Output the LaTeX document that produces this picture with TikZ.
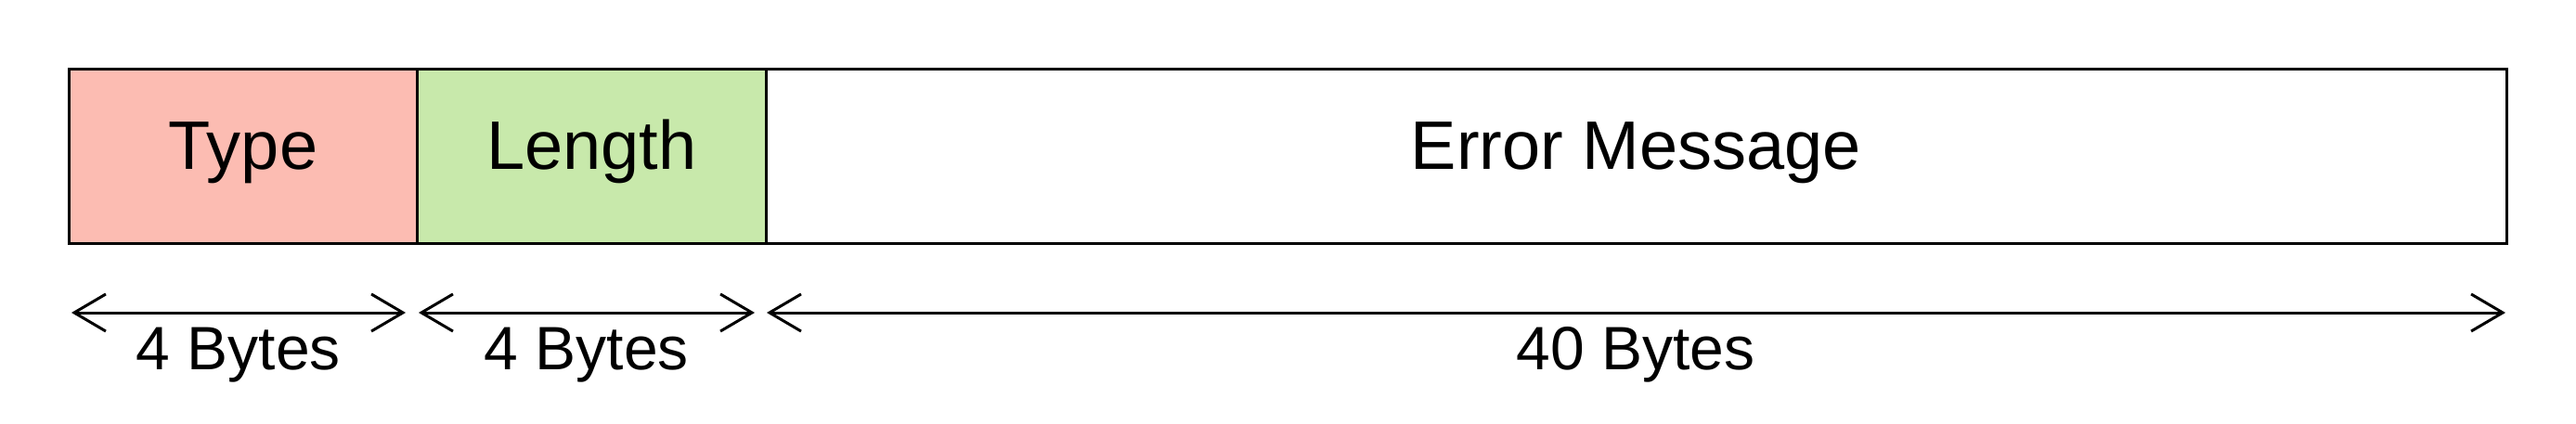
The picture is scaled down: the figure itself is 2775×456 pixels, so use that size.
\documentclass[tikz,border=0pt]{standalone}
\usepackage{fontspec}
\setmainfont{Liberation Sans}
\usetikzlibrary{arrows.meta}
\definecolor{typefill}{RGB}{252,188,178}
\definecolor{lenfill}{RGB}{200,233,171}
\tikzset{
  field/.style={draw=black, line width=3pt, rectangle, inner sep=0pt,
    minimum height=188pt, font=\fontsize{74}{80}\selectfont,
    text height=53pt, text depth=25pt},
  span/.style={line width=3pt, {Straight Barb[length=34pt,width=40pt]}-{Straight Barb[length=34pt,width=40pt]}},
  spanlabel/.style={anchor=base, inner sep=0pt, font=\fontsize{66}{72}\selectfont}
}
\begin{document}
\begin{tikzpicture}[x=1pt,y=-1pt]
\useasboundingbox (0,0) rectangle (2775,456);
\node[field, fill=typefill, minimum width=375pt] (type) at (262,168) {Type};
\node[field, fill=lenfill, minimum width=375.5pt] (length) at (637.25,168) {Length};
\node[field, fill=white, minimum width=1875pt] (msg) at (1762.5,168) {Error Message};
\coordinate (a1l) at (77,337);
\coordinate (a1r) at (437,337);
\coordinate (a2l) at (451,337);
\coordinate (a2r) at (813,337);
\coordinate (a3l) at (826,337);
\coordinate (a3r) at (2699,337);
\draw[span] (a1l) -- (a1r);
\draw[span] (a2l) -- (a2r);
\draw[span] (a3l) -- (a3r);
\node[spanlabel] (l1) at (257,398) {4 Bytes};
\node[spanlabel] (l2) at (632,398) {4 Bytes};
\node[spanlabel] (l3) at (1762,398) {40 Bytes};
\end{tikzpicture}
\end{document}
